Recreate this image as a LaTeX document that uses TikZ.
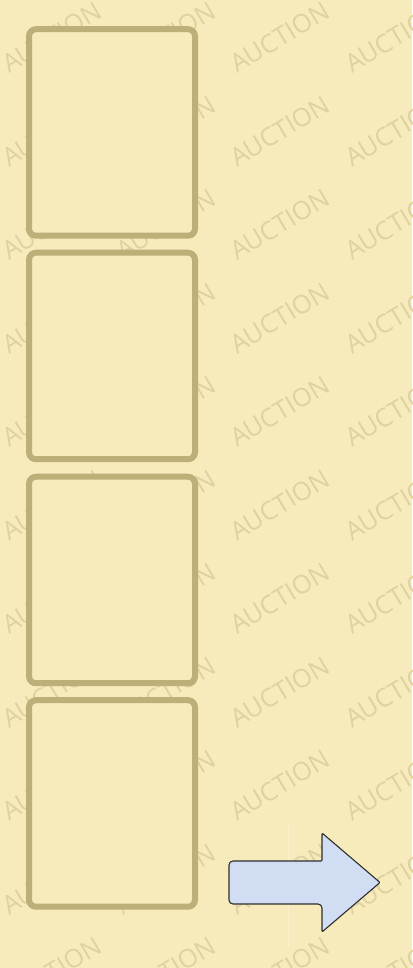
\documentclass[tikz,border=0pt]{standalone}
\usepackage{fontspec}
\newfontfamily\wmfont{Open Sans}
\definecolor{bgc}{HTML}{F7EBBC}
\definecolor{wmc}{HTML}{DFD2A2}
\definecolor{boxc}{HTML}{BCAF77}
\definecolor{arrfill}{HTML}{D1DDF3}
\definecolor{arrdraw}{HTML}{2E2E2E}
\definecolor{seam}{HTML}{F9F0CA}
\tikzset{
  wmark/.style={text=wmc, font=\wmfont\fontsize{25.5}{30}\selectfont, rotate=31, inner sep=0pt, anchor=center},
  panel/.style={draw=boxc, fill=bgc, line width=6pt, rounded corners=7pt, minimum width=166pt, minimum height=206.5pt, inner sep=0pt, outer sep=0pt},
  bigarrow/.style={draw=arrdraw, fill=arrfill, line width=1.1pt, line join=round}
}
\begin{document}
\begin{tikzpicture}[x=1pt,y=1pt]
\fill[bgc] (0,0) rectangle (412,968);
\useasboundingbox (0,0) rectangle (412,968);
% watermarks
\foreach \c/\cx in {0/52,1/166,2/280,3/395}{
  \foreach \r in {0,...,10}{
    \node[wmark] (wm-\c-\r) at (\cx,{968-37.5-93.5*\r}) {AUCTION};
  }
}
% panels
\node[panel] (b1) at (112,835.5) {};
\node[panel] (b2) at (112,612) {};
\node[panel] (b3) at (112,388) {};
\node[panel] (b4) at (112,164.5) {};
% faint seam
\draw[seam, line width=0.8pt] (288,145) -- (288,21);
% arrow
\draw[bigarrow] (322,107) [rounded corners=4pt] -- (229,107) -- (229,64) -- (322,64) [rounded corners=1pt] -- (322,36) -- (380,85.5) -- (322,135) -- cycle;
\end{tikzpicture}
\end{document}
